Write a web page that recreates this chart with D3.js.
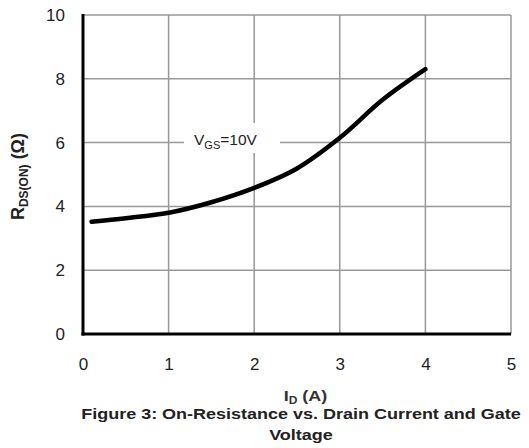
<!DOCTYPE html>
<html><head><meta charset="utf-8">
<script src="https://cdn.jsdelivr.net/npm/d3@7"></script>
<style>body{margin:0;background:#fff;}svg{display:block;}</style>
</head><body>
<script>
const currentA = [0.1, 0.5, 1, 1.5, 2, 2.5, 3, 3.5, 4];
const rdsOhm   = [3.52, 3.63, 3.80, 4.13, 4.58, 5.19, 6.15, 7.34, 8.3];
const xTicks = [0, 1, 2, 3, 4, 5];
const yTicks = [0, 2, 4, 6, 8, 10];

const W = 529, H = 448;
const svg = d3.select("body").append("svg").attr("width", W).attr("height", H);
const x = d3.scaleLinear().domain([0, 5]).range([83, 511]);
const y = d3.scaleLinear().domain([0, 10]).range([334, 15]);
const font = "Liberation Sans, Arial, sans-serif";

// gridlines
const g = svg.append("g");
g.selectAll("line.v").data(xTicks.slice(1)).join("line")
  .attr("x1", d => x(d)).attr("x2", d => x(d)).attr("y1", y(10)).attr("y2", y(0))
  .attr("stroke", "#999").attr("stroke-width", 1.5);
g.selectAll("line.h").data(yTicks.slice(1)).join("line")
  .attr("x1", x(0)).attr("x2", x(5)).attr("y1", d => y(d)).attr("y2", d => y(d))
  .attr("stroke", "#999").attr("stroke-width", 1.5);

// label background box
svg.append("rect").attr("x", 184).attr("y", 123).attr("width", 96).attr("height", 30).attr("fill", "#fff");

// axes
svg.append("line").attr("x1", x(0)).attr("x2", x(0)).attr("y1", y(10)-1).attr("y2", y(0)+1.5)
  .attr("stroke", "#000").attr("stroke-width", 3);
svg.append("line").attr("x1", x(0)-1.5).attr("x2", x(5)).attr("y1", y(0)).attr("y2", y(0))
  .attr("stroke", "#000").attr("stroke-width", 3);

// tick labels via axes
const ax = svg.append("g").attr("transform", `translate(0,${y(0)})`)
  .call(d3.axisBottom(x).tickValues(xTicks).tickSize(0).tickPadding(24).tickFormat(d3.format("d")));
const ay = svg.append("g").attr("transform", `translate(${x(0)},0)`)
  .call(d3.axisLeft(y).tickValues(yTicks).tickSize(0).tickPadding(18).tickFormat(d3.format("d")));
[ax, ay].forEach(a => {
  a.select(".domain").remove();
  a.selectAll("text").attr("font-family", font).attr("font-size", 17).attr("fill", "#222");
});

// curve
const pts = currentA.map((d, i) => [d, rdsOhm[i]]);
svg.append("path").datum(pts)
  .attr("d", d3.line().x(d => x(d[0])).y(d => y(d[1])).curve(d3.curveCatmullRom.alpha(0.5)))
  .attr("fill", "none").attr("stroke", "#000").attr("stroke-width", 4.5).attr("stroke-linecap", "round");

// series label
const lab = svg.append("text").attr("transform", "translate(194,144.5)")
  .attr("font-family", font).attr("font-size", 15.5).attr("fill", "#222");
lab.append("tspan").text("V");
lab.append("tspan").attr("font-size", 11).attr("dy", 4).text("GS");
lab.append("tspan").attr("dy", -4).text("=10V");

// y title
const yt = svg.append("text").attr("transform", `translate(24,176.5) rotate(-90)`)
  .attr("text-anchor", "middle").attr("font-family", font).attr("font-weight", "bold")
  .attr("font-size", 18).attr("fill", "#222");
yt.append("tspan").text("R");
yt.append("tspan").attr("font-size", 12).attr("dy", 4).text("DS(ON)");
yt.append("tspan").attr("dy", -4).text(" (Ω)");

// x title
const xt = svg.append("text").attr("transform", "translate(305.5,401) scale(1.2,1)")
  .attr("text-anchor", "middle")
  .attr("font-family", font).attr("font-weight", "bold").attr("font-size", 15).attr("fill", "#333");
xt.append("tspan").text("I");
xt.append("tspan").attr("font-size", 10).attr("dy", 3).text("D");
xt.append("tspan").attr("dy", -3).text(" (A)");

// caption
const cap = ["Figure 3: On-Resistance vs. Drain Current and Gate", "Voltage"];
svg.selectAll("text.cap").data(cap).join("text").attr("class", "cap")
  .attr("transform", (d, i) => `translate(301,${419 + i * 21}) scale(1.2,1)`)
  .attr("text-anchor", "middle")
  .attr("font-family", font).attr("font-weight", "bold").attr("font-size", 15).attr("fill", "#222")
  .text(d => d);
</script>
</body></html>
